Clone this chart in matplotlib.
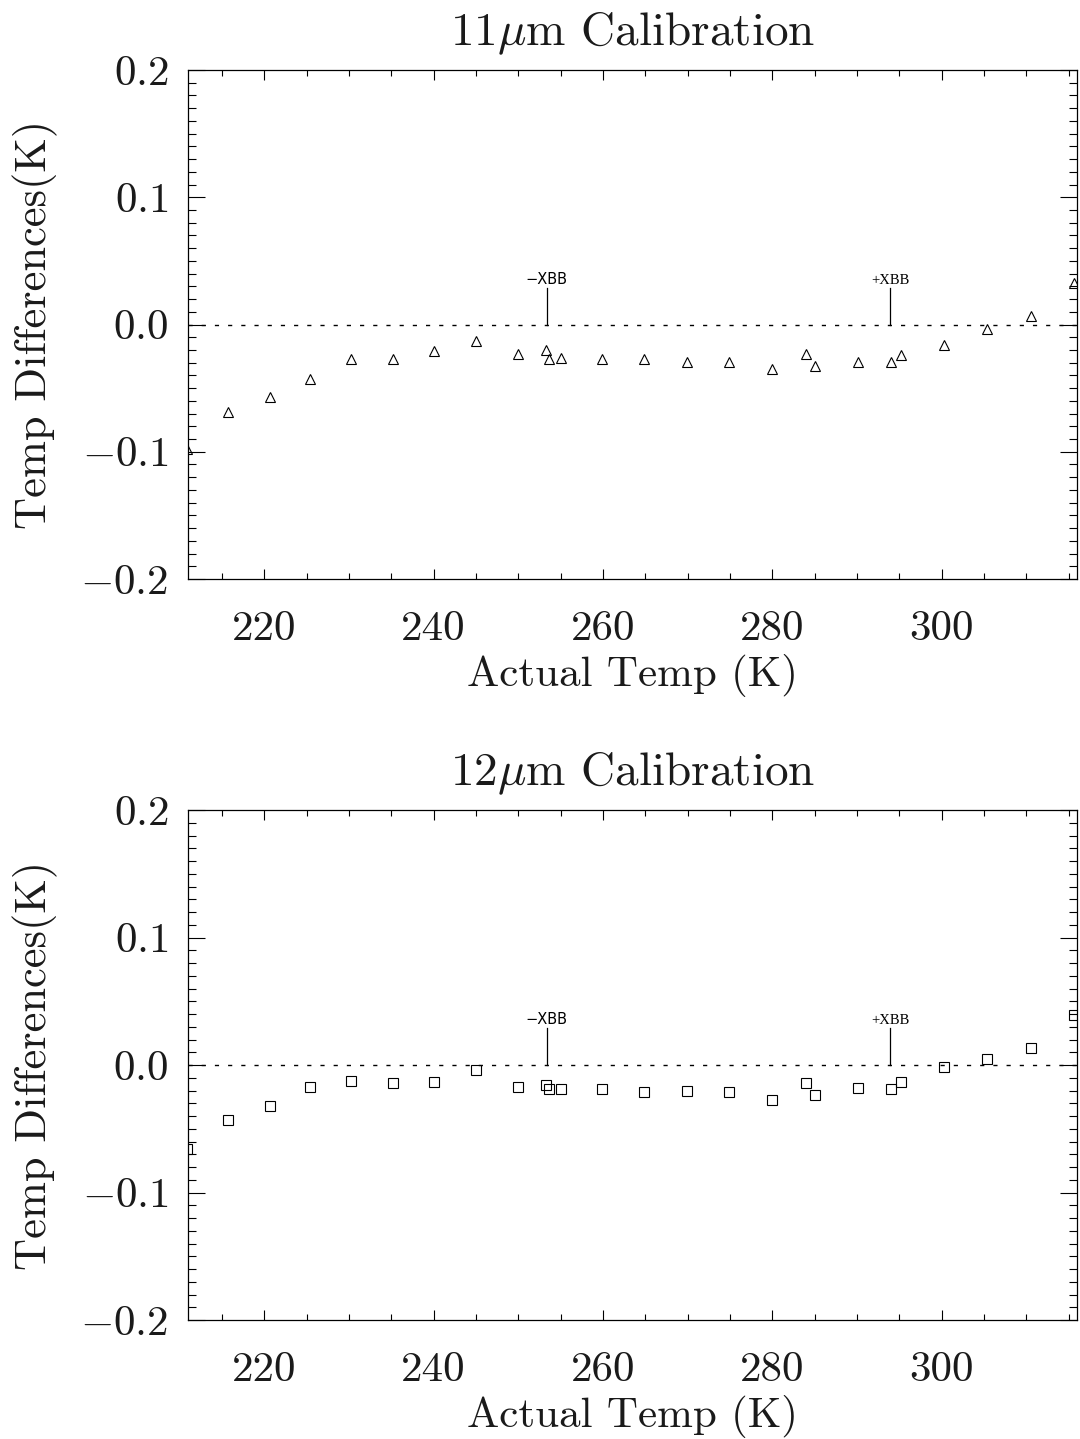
import matplotlib
matplotlib.use("Agg")
import matplotlib.pyplot as plt
from matplotlib.ticker import MultipleLocator

plt.rcParams['font.family'] = ['cmr10', 'DejaVu Serif']
plt.rcParams['mathtext.fontset'] = 'cm'
plt.rcParams['axes.formatter.use_mathtext'] = True
plt.rcParams['axes.unicode_minus'] = False

# ---- data ----
temp_11 = [210.9, 215.7, 220.7, 225.4, 230.2, 235.2, 240.0, 245.0, 250.0, 253.3, 253.6, 255.0,
           259.9, 264.9, 269.9, 274.9, 280.0, 284.0, 285.1, 290.1, 294.0, 295.2, 300.3, 305.4,
           310.6, 315.6]
diff_11 = [-0.098, -0.0688, -0.057, -0.043, -0.0275, -0.0275, -0.021, -0.013, -0.023, -0.020, -0.027,
           -0.026, -0.0275, -0.027, -0.0296, -0.0296, -0.035, -0.023, -0.033, -0.0296, -0.0296,
           -0.024, -0.016, -0.0037, 0.007, 0.033]

temp_12 = [210.9, 215.7, 220.7, 225.4, 230.2, 235.2, 240.0, 245.0, 250.0, 253.3, 253.6, 255.0,
           259.9, 264.9, 269.9, 274.9, 280.0, 284.0, 285.1, 290.1, 294.0, 295.2, 300.3, 305.4,
           310.6, 315.6]
diff_12 = [-0.066, -0.0434, -0.0322, -0.0173, -0.0123, -0.0139, -0.0133, -0.0039, -0.0175, -0.0159,
           -0.0188, -0.0190, -0.0190, -0.0209, -0.0206, -0.0214, -0.0272, -0.0141, -0.0235, -0.018,
           -0.0188, -0.0131, -0.0018, 0.0045, 0.0136, 0.039]

xbb_pos = [253.35, 293.95]
xbb_labels = ['\u2212XBB', '+XBB']
xbb_fonts = ['DejaVu Sans', 'Liberation Serif']
xbb_height = 0.029

titles = [r'11$\mu$m Calibration', r'12$\mu$m Calibration']
xlabel = 'Actual Temp (K)'
ylabel = 'Temp Differences(K)'
xticks = [220, 240, 260, 280, 300]
xtick_labels = ['220', '240', '260', '280', '300']
yticks = [-0.2, -0.1, 0.0, 0.1, 0.2]
ytick_labels = [r'$-0.2$', r'$-0.1$', r'$0.0$', r'$0.1$', r'$0.2$']
xlim = (211.0, 316.0)
ylim = (-0.2, 0.2)

fig = plt.figure(figsize=(10.8, 14.39), dpi=100)
fig.patch.set_facecolor('white')

axes_rects = [
    [188 / 1080, 1 - 579 / 1439, 889 / 1080, 509 / 1439],
    [188 / 1080, 1 - 1320 / 1439, 889 / 1080, 510 / 1439],
]
series = [(temp_11, diff_11, '^'), (temp_12, diff_12, 's')]
text_color = '#1a1a1a'

for rect, (xs, ys, mk), title in zip(axes_rects, series, titles):
    ax = fig.add_axes(rect)
    ax.plot(xs, ys, linestyle='none', marker=mk, markersize=6.8,
            markerfacecolor='none', markeredgecolor='black', markeredgewidth=0.8,
            clip_on=True)
    ax.axhline(0.0, color='black', lw=1.0, linestyle=(0, (3, 6.5)))
    for xp, lab, fnt in zip(xbb_pos, xbb_labels, xbb_fonts):
        ax.plot([xp, xp], [0.0, xbb_height], color='black', lw=0.9)
        ax.text(xp, xbb_height + 0.0005, lab, ha='center', va='bottom',
                fontsize=10.5, family=fnt)
    ax.set_xlim(*xlim)
    ax.set_ylim(*ylim)
    ax.set_xticks(xticks, labels=xtick_labels)
    ax.set_yticks(yticks, labels=ytick_labels)
    ax.xaxis.set_minor_locator(MultipleLocator(5))
    ax.yaxis.set_minor_locator(MultipleLocator(0.01))
    ax.tick_params(axis='x', which='major', direction='in', length=7.5, width=0.8,
                   top=True, bottom=True, labelsize=31, pad=23, labelcolor=text_color)
    ax.tick_params(axis='x', which='minor', direction='in', length=4, width=0.8,
                   top=True, bottom=True)
    ax.tick_params(axis='y', which='major', direction='in', length=12, width=0.8,
                   left=True, right=True, labelsize=31, pad=14, labelcolor=text_color)
    ax.tick_params(axis='y', which='minor', direction='in', length=6, width=0.8,
                   left=True, right=True)
    for sp in ax.spines.values():
        sp.set_linewidth(0.9)
    ax.set_title(title, fontsize=34, pad=18, color=text_color)
    ax.set_xlabel(xlabel, fontsize=31, labelpad=4, color=text_color)
    ax.set_ylabel(ylabel, fontsize=32, labelpad=16, color=text_color)

fig.savefig('out.png', dpi=100, facecolor='white')
